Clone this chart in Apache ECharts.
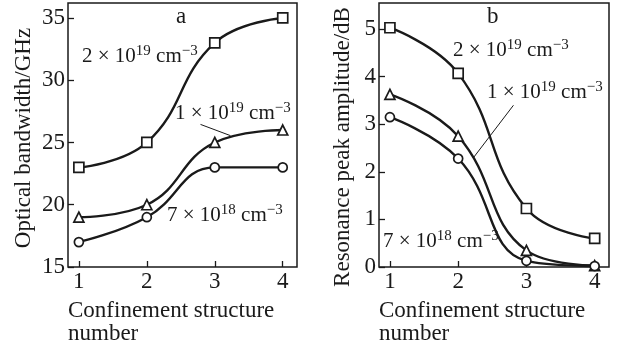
<!DOCTYPE html>
<html><head><meta charset="utf-8">
<script src="https://cdn.jsdelivr.net/npm/echarts@6/dist/echarts.min.js"></script>
<style>html,body{margin:0;padding:0;background:#fff}#c{width:622px;height:352px}</style>
</head><body><div id="c"></div>
<script>
const xCats = [1, 2, 3, 4];
const xTicks = [1, 2, 3, 4];
const bwTicks = [15, 20, 25, 30, 35];
const ampTicks = [0, 1, 2, 3, 4, 5];
// a) optical bandwidth, GHz
const bw2e19 = [23, 25, 33, 35];
const bw1e19 = [19, 20, 25, 26];
const bw7e18 = [17, 19, 23, 23];
// b) resonance peak amplitude, dB
const amp2e19 = [5.03, 4.07, 1.23, 0.6];
const amp1e19 = [3.63, 2.75, 0.35, 0.03];
const amp7e18 = [3.15, 2.28, 0.13, 0.02];
// leader lines (data coordinates)
const leaderA = [[2.79, 26.45], [3.23, 25.55]];
const leaderB = [[2.81, 3.40], [2.23, 2.31]];

const FONT = '"Liberation Serif", "Times New Roman", serif';
const INK = '#1a1a1a';
const pair = (xs, ys) => xs.map((x, i) => [x, ys[i]]);

function xAx(gi) {
  return {
    gridIndex: gi, type: 'value', min: 0.84, max: 4.21,
    axisLine: {show: false}, splitLine: {show: false},
    axisTick: {inside: true, length: 6, lineStyle: {color: INK, width: 1.3}, customValues: xTicks},
    axisLabel: {customValues: xTicks, fontFamily: FONT, fontSize: 23, color: INK, margin: 3}
  };
}
function yAx(gi, min, max, ticks) {
  return {
    gridIndex: gi, type: 'value', min: min, max: max,
    axisLine: {show: false}, splitLine: {show: false},
    axisTick: {inside: true, length: 6, lineStyle: {color: INK, width: 1.3}, customValues: ticks},
    axisLabel: {customValues: ticks, fontFamily: FONT, fontSize: 23, color: INK, margin: 3}
  };
}
function ser(gi, ys, sym, size) {
  return {
    type: 'line', xAxisIndex: gi, yAxisIndex: gi, data: pair(xCats, ys),
    smooth: 0.45, symbol: sym, symbolSize: size, showSymbol: true, clip: true,
    lineStyle: {color: INK, width: 2.4},
    itemStyle: {color: '#fff', borderColor: INK, borderWidth: 1.7},
    z: 3
  };
}
function leader(gi, pts) {
  return {
    type: 'line', xAxisIndex: gi, yAxisIndex: gi, data: pts, symbol: 'none',
    lineStyle: {color: INK, width: 1}, z: 2
  };
}
const rich = {
  n: {fontFamily: FONT, fontSize: 21, color: INK, lineHeight: 24, verticalAlign: 'middle'},
  s: {fontFamily: FONT, fontSize: 15, color: INK, lineHeight: 24, verticalAlign: 'top'}
};
function conc(mant, exp, left, top) {
  return {text: '{n|' + mant + ' × 10}{s|' + exp + '}{n| cm}{s|−3}', left: left, top: top, padding: 0,
    textStyle: {rich: rich, fontFamily: FONT, fontSize: 21, color: INK, fontWeight: 'normal'}};
}
function plain(t, left, top, size) {
  return {text: t, left: left, top: top, padding: 0,
    textStyle: {fontFamily: FONT, fontSize: size, color: INK, fontWeight: 'normal', lineHeight: 23.5}};
}

const chart = echarts.init(document.getElementById('c'), null, {renderer: 'canvas'});
chart.setOption({
  animation: false,
  backgroundColor: '#fff',
  grid: [
    {left: 68, top: 3, width: 229, height: 264, show: true, borderColor: INK, borderWidth: 1.5, backgroundColor: 'transparent'},
    {left: 379, top: 3, width: 230, height: 264, show: true, borderColor: INK, borderWidth: 1.5, backgroundColor: 'transparent'}
  ],
  xAxis: [xAx(0), xAx(1)],
  yAxis: [yAx(0, 15, 36.2, bwTicks), yAx(1, 0, 5.55, ampTicks)],
  series: [
    ser(0, bw2e19, 'rect', 10), ser(0, bw1e19, 'triangle', 10), ser(0, bw7e18, 'circle', 9),
    ser(1, amp2e19, 'rect', 10), ser(1, amp1e19, 'triangle', 10), ser(1, amp7e18, 'circle', 9),
    leader(0, leaderA), leader(1, leaderB)
  ],
  title: [
    plain('a', 176, 5, 23), plain('b', 487, 5, 23),
    conc('2', '19', 82, 44), conc('1', '19', 175, 101), conc('7', '18', 167, 203),
    conc('2', '19', 453, 38), conc('1', '19', 487, 80), conc('7', '18', 383, 229),
    plain('Confinement structure\nnumber', 68, 299, 23),
    plain('Confinement structure\nnumber', 379, 299, 23)
  ],
  graphic: [
    {type: 'text', x: 24, y: 138, rotation: Math.PI / 2,
     style: {text: 'Optical bandwidth/GHz', font: '23px ' + FONT, fill: INK, align: 'center', verticalAlign: 'middle', textAlign: 'center', textVerticalAlign: 'middle'}},
    {type: 'text', x: 343, y: 147, rotation: Math.PI / 2,
     style: {text: 'Resonance peak amplitude/dB', font: '23px ' + FONT, fill: INK, align: 'center', verticalAlign: 'middle', textAlign: 'center', textVerticalAlign: 'middle'}}
  ]
});
</script></body></html>
